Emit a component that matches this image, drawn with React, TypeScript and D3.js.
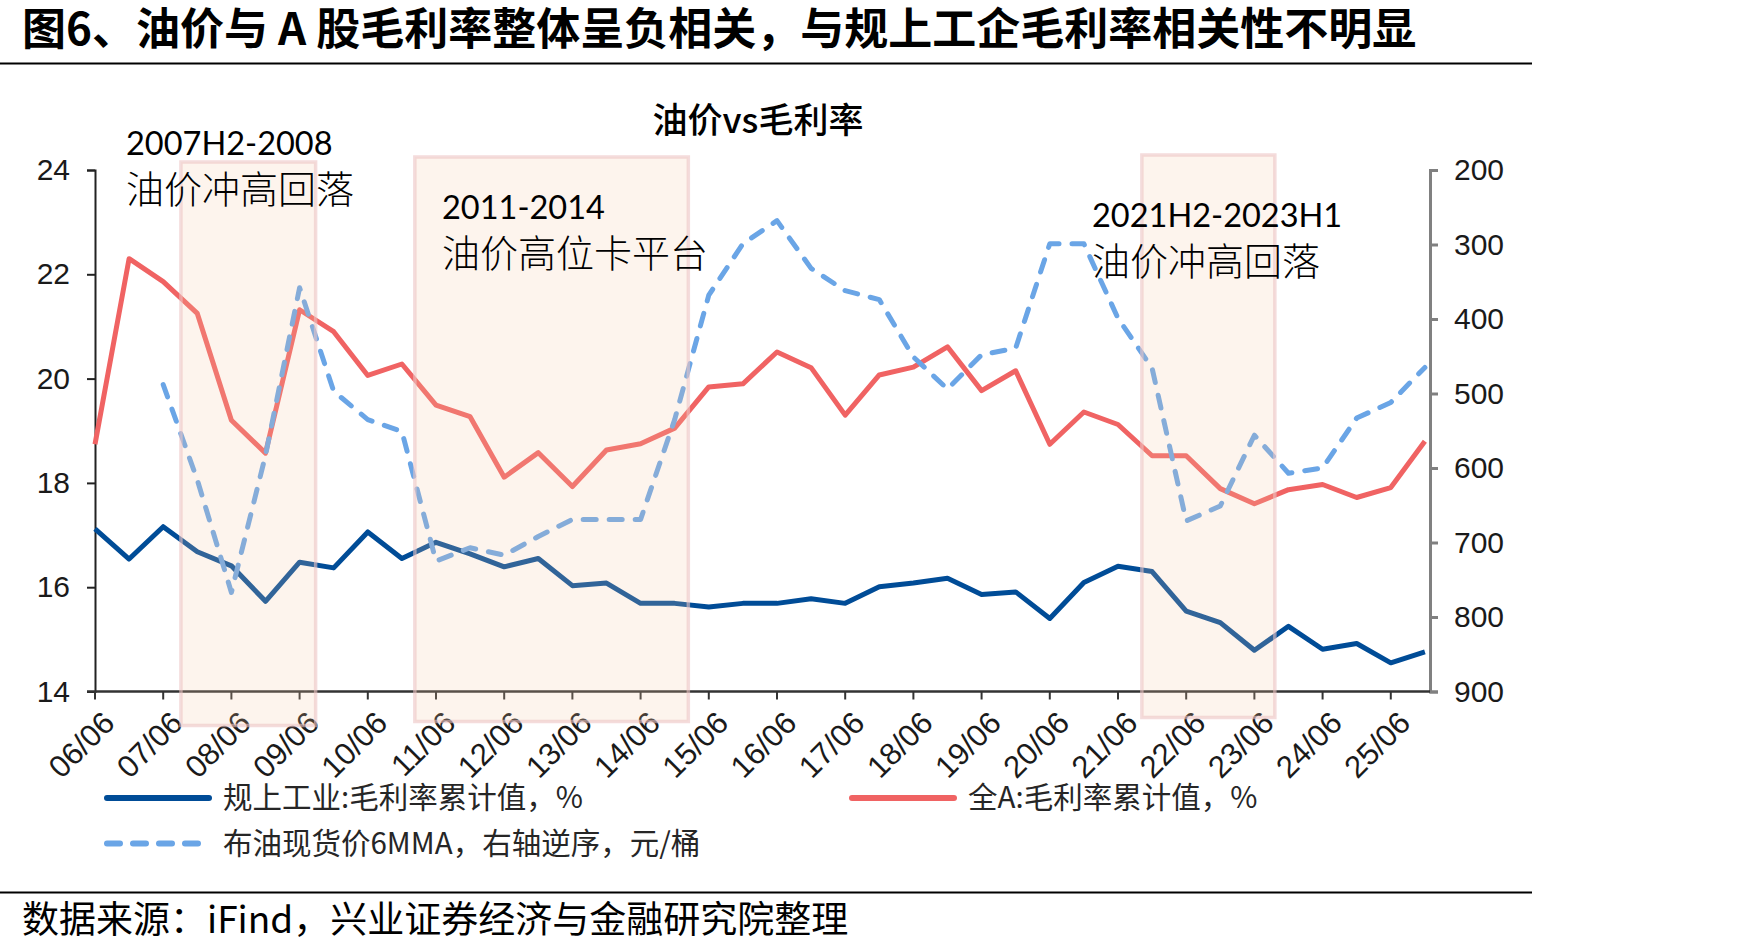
import React, { useRef, useEffect } from 'react';
import * as d3 from 'd3';

// half-year periods, yy/mm
const PERIODS = [
  '06/06', '06/12', '07/06', '07/12', '08/06', '08/12', '09/06', '09/12', '10/06', '10/12',
  '11/06', '11/12', '12/06', '12/12', '13/06', '13/12', '14/06', '14/12', '15/06', '15/12',
  '16/06', '16/12', '17/06', '17/12', '18/06', '18/12', '19/06', '19/12', '20/06', '20/12',
  '21/06', '21/12', '22/06', '22/12', '23/06', '23/12', '24/06', '24/12', '25/06', '25/12',
];
const TICK_LABELS = [
  '06/06', '07/06', '08/06', '09/06', '10/06', '11/06', '12/06', '13/06', '14/06', '15/06',
  '16/06', '17/06', '18/06', '19/06', '20/06', '21/06', '22/06', '23/06', '24/06', '25/06',
];

// 规上工业:毛利率累计值，%
const INDUSTRY = [
  17.12, 16.54, 17.16, 16.68, 16.41, 15.73, 16.48, 16.37, 17.06, 16.55,
  16.86, 16.64, 16.39, 16.55, 16.03, 16.08, 15.69, 15.69, 15.62, 15.69,
  15.69, 15.78, 15.69, 16.01, 16.08, 16.17, 15.86, 15.91, 15.40, 16.09,
  16.40, 16.30, 15.54, 15.32, 14.79, 15.25, 14.81, 14.92, 14.55, 14.76,
];
// 全A:毛利率累计值，%
const ALL_A = [
  18.74, 22.30, 21.86, 21.25, 19.20, 18.57, 21.32, 20.90, 20.06, 20.28,
  19.49, 19.27, 18.11, 18.58, 17.93, 18.63, 18.75, 19.05, 19.84, 19.90,
  20.51, 20.21, 19.30, 20.07, 20.22, 20.61, 19.77, 20.15, 18.74, 19.36,
  19.12, 18.52, 18.52, 17.89, 17.60, 17.87, 17.97, 17.72, 17.91, 18.80,
];
// 布油现货价6MMA，元/桶 (right axis, reversed)
const BRENT = [
  null, null, 488, 616, 767, 583, 358, 497, 535, 551,
  725, 707, 717, 692, 669, 669, 669, 535, 368, 299,
  268, 332, 362, 374, 451, 494, 448, 439, 299, 299,
  399, 466, 671, 651, 556, 607, 600, 533, 512, 465,
];

const LEFT_TICKS = [14, 16, 18, 20, 22, 24];
const RIGHT_TICKS = [200, 300, 400, 500, 600, 700, 800, 900];

// shaded periods, in period-index units
const HIGHLIGHTS = [
  { from: 2.52, to: 6.47, top: -8, bottom: 34 },
  { from: 9.38, to: 17.4, top: -13, bottom: 30 },
  { from: 30.7, to: 34.6, top: -15, bottom: 26 },
];

const NOTES = [
  { lines: ['2007H2-2008', '油价冲高回落'], x: 126, y: 155 },
  { lines: ['2011-2014', '油价高位卡平台'], x: 442, y: 219 },
  { lines: ['2021H2-2023H1', '油价冲高回落'], x: 1092, y: 227 },
];

const W = 1747;
const H = 952;
const CJK = '"Noto Sans CJK SC", "Noto Sans", sans-serif';
const LATIN = '"Liberation Sans", Arial, sans-serif';
const NAVY = '#004C97';
const RED = '#F06363';
const LIGHT_BLUE = '#6AA5E6';

export default function App() {
  const ref = useRef<SVGSVGElement>(null);

  useEffect(() => {
    if (!ref.current) return;
    const svg = d3.select(ref.current);
    svg.selectAll('*').remove();

    const left = 95, right = 1430, top = 170, bottom = 691.5;

    // date axis runs a little past the last half-year point
    const x = d3.scaleLinear().domain([0, PERIODS.length - 1 + 0.15]).range([left, right]);
    const yL = d3.scaleLinear().domain([14, 24]).range([bottom, top]);
    const yR = d3.scaleLinear().domain([200, 900]).range([top, bottom]);

    svg.append('rect').attr('width', W).attr('height', H).attr('fill', '#fff');

    // title + rules
    svg.append('text')
      .attr('x', 22).attr('y', 45)
      .attr('font-family', CJK).attr('font-weight', 700).attr('font-size', 44)
      .attr('fill', '#000')
      .text('图6、油价与 A 股毛利率整体呈负相关，与规上工企毛利率相关性不明显');
    svg.append('line').attr('x1', 0).attr('x2', 1532).attr('y1', 63.5).attr('y2', 63.5)
      .attr('stroke', '#000').attr('stroke-width', 2);
    svg.append('line').attr('x1', 0).attr('x2', 1532).attr('y1', 892.5).attr('y2', 892.5)
      .attr('stroke', '#000').attr('stroke-width', 2);
    svg.append('text')
      .attr('x', 22).attr('y', 933)
      .attr('font-family', CJK).attr('font-size', 37).attr('fill', '#000')
      .text('数据来源：iFind，兴业证券经济与金融研究院整理');

    // chart title
    svg.append('text')
      .attr('x', 758).attr('y', 133)
      .attr('text-anchor', 'middle')
      .attr('font-family', CJK).attr('font-size', 35).attr('font-weight', 500).attr('fill', '#000')
      .text('油价vs毛利率');

    // left axis
    const gL = svg.append('g').attr('transform', `translate(${left},0)`);
    gL.call(d3.axisLeft(yL).tickValues(LEFT_TICKS).tickSize(8).tickPadding(17).tickFormat(d3.format('d')) as any);
    gL.select('.domain').attr('stroke', '#222').attr('stroke-width', 2);
    gL.selectAll('.tick line').attr('stroke', '#222').attr('stroke-width', 2);
    gL.selectAll('.tick text')
      .attr('font-family', LATIN)
      .attr('font-size', 30).attr('fill', '#1a1a1a');

    // right axis
    const gR = svg.append('g').attr('transform', `translate(${right},0)`);
    gR.call(d3.axisRight(yR).tickValues(RIGHT_TICKS).tickSize(8).tickPadding(16) as any);
    gR.select('.domain').attr('stroke', '#808080').attr('stroke-width', 3);
    gR.selectAll('.tick line').attr('stroke', '#808080').attr('stroke-width', 3);
    gR.selectAll('.tick text')
      .attr('font-family', LATIN)
      .attr('font-size', 30).attr('fill', '#1a1a1a');

    // bottom axis
    const tickIdx = PERIODS.map((p, i) => i).filter(i => TICK_LABELS.includes(PERIODS[i]));
    svg.append('line')
      .attr('x1', left - 8).attr('x2', right).attr('y1', bottom).attr('y2', bottom)
      .attr('stroke', '#333').attr('stroke-width', 2.5);
    svg.selectAll('.xtick')
      .data(tickIdx)
      .join('line')
      .attr('class', 'xtick')
      .attr('x1', d => x(d)).attr('x2', d => x(d))
      .attr('y1', bottom).attr('y2', bottom + 8)
      .attr('stroke', '#333').attr('stroke-width', 2);
    svg.selectAll('.xlabel')
      .data(tickIdx)
      .join('text')
      .attr('class', 'xlabel')
      .attr('transform', d => `translate(${x(d) + 6},${bottom + 18}) rotate(-45)`)
      .attr('text-anchor', 'end')
      .attr('dy', '0.7em')
      .attr('font-family', LATIN)
      .attr('font-size', 31).attr('fill', '#1a1a1a')
      .text(d => PERIODS[d]);

    // series
    const lineL = d3.line<number>().x((d, i) => x(i)).y(d => yL(d));
    svg.append('path').datum(INDUSTRY).attr('d', lineL)
      .attr('fill', 'none').attr('stroke', NAVY).attr('stroke-width', 5).attr('stroke-linejoin', 'round');
    svg.append('path').datum(ALL_A).attr('d', lineL)
      .attr('fill', 'none').attr('stroke', RED).attr('stroke-width', 5).attr('stroke-linejoin', 'round');
    const lineR = d3.line<number | null>()
      .defined(d => d != null)
      .x((d, i) => x(i)).y(d => yR(d as number));
    svg.append('path').datum(BRENT).attr('d', lineR)
      .attr('fill', 'none').attr('stroke', LIGHT_BLUE).attr('stroke-width', 5)
      .attr('stroke-dasharray', '13 13').attr('stroke-linecap', 'round').attr('stroke-linejoin', 'round');

    // shaded periods, on top of the lines
    svg.selectAll('.hl')
      .data(HIGHLIGHTS)
      .join('rect')
      .attr('class', 'hl')
      .attr('x', d => x(d.from))
      .attr('width', d => x(d.to) - x(d.from))
      .attr('y', d => top + d.top)
      .attr('height', d => bottom - top + d.bottom - d.top)
      .attr('fill', 'rgba(245,201,165,0.2)')
      .attr('stroke', 'rgba(236,196,196,0.6)')
      .attr('stroke-width', 3.5);

    // notes
    NOTES.forEach(n => {
      const t = svg.append('text').attr('fill', '#000');
      t.append('tspan').attr('x', n.x).attr('y', n.y)
        .attr('font-family', 'Lato, "Open Sans", sans-serif').attr('font-size', 32.5)
        .text(n.lines[0]);
      t.append('tspan').attr('x', n.x).attr('y', n.y + 48)
        .attr('font-family', CJK).attr('font-size', 38).attr('font-weight', 300)
        .text(n.lines[1]);
    });

    // legend
    const legend = [
      { label: '规上工业:毛利率累计值，%', color: NAVY, dash: null, lx: 104, ly: 798 },
      { label: '全A:毛利率累计值，%', color: RED, dash: null, lx: 849, ly: 798 },
      { label: '布油现货价6MMA，右轴逆序，元/桶', color: LIGHT_BLUE, dash: '13 13', lx: 104, ly: 843.5 },
    ];
    const lg = svg.selectAll('.lg').data(legend).join('g').attr('class', 'lg');
    lg.append('line')
      .attr('x1', d => d.lx + 3).attr('x2', d => d.lx + 105)
      .attr('y1', d => d.ly).attr('y2', d => d.ly)
      .attr('stroke', d => d.color).attr('stroke-width', 6)
      .attr('stroke-linecap', 'round')
      .attr('stroke-dasharray', d => d.dash ?? null);
    lg.append('text')
      .attr('x', d => d.lx + 119).attr('y', d => d.ly + 10)
      .attr('font-family', CJK).attr('font-size', 29.5).attr('fill', '#262626')
      .text(d => d.label);
  }, []);

  return (
    <svg ref={ref} width={W} height={H} style={{ position: 'absolute', left: 0, top: 0 }} />
  );
}
